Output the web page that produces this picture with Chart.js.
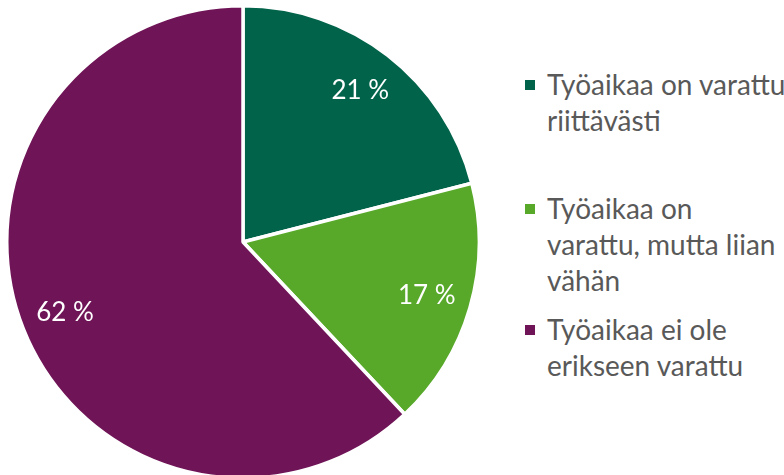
<!DOCTYPE html>
<html>
<head>
<meta charset="utf-8">
<script src="https://cdn.jsdelivr.net/npm/chart.js@4.4.1/dist/chart.umd.min.js"></script>
<style>
  html, body { margin: 0; padding: 0; background: #fff; overflow: hidden; }
  body { width: 784px; height: 475px; position: relative; font-family: Lato, "Open Sans", sans-serif; }
  #pieBox { position: absolute; left: 5px; top: 4px; width: 476px; height: 476px; }
  #legend { position: absolute; left: 0; top: 0; }
  .item { position: absolute; left: 525px; white-space: nowrap; }
  .swatch { position: absolute; left: 0; width: 10px; height: 10px; }
  .txt { position: absolute; left: 22px; color: #595959; font-size: 28px; line-height: 36px; }
</style>
</head>
<body>
<div id="pieBox"><canvas id="pieChart"></canvas></div>
<div id="legend"></div>
<script>
// data
const categories = ['Työaikaa on varattu riittävästi', 'Työaikaa on varattu, mutta liian vähän', 'Työaikaa ei ole erikseen varattu'];
const legendLines = [['Työaikaa on varattu', 'riittävästi'], ['Työaikaa on', 'varattu, mutta liian', 'vähän'], ['Työaikaa ei ole', 'erikseen varattu']];
const shares = [21, 17, 62];
const sliceColors = ['#02634b', '#58a92a', '#6f1456'];

// legend tops (first line) in px
const legendTops = [66, 190, 311];

const legendEl = document.getElementById('legend');
categories.forEach((c, i) => {
    const item = document.createElement('div');
    item.className = 'item';
    item.style.top = legendTops[i] + 'px';
    item.innerHTML = `<div class="swatch" style="top:14px;background:${sliceColors[i]}"></div>` +
        `<div class="txt">${legendLines[i].join('<br>')}</div>`;
    legendEl.appendChild(item);
});

// percent labels inside the slices
const sliceLabels = {
    id: 'sliceLabels',
    afterDatasetsDraw(chart) {
        const c = chart.ctx;
        const meta = chart.getDatasetMeta(0);
        c.save();
        c.fillStyle = '#ffffff';
        c.font = '26px Lato, "Open Sans", sans-serif';
        c.textAlign = 'center';
        c.textBaseline = 'middle';
        meta.data.forEach((arc, i) => {
            const p = arc.getProps(['x', 'y', 'startAngle', 'endAngle', 'outerRadius'], true);
            const mid = (p.startAngle + p.endAngle) / 2;
            const r = p.outerRadius * 0.81;
            c.fillText(shares[i] + ' %', p.x + Math.cos(mid) * r, p.y + Math.sin(mid) * r);
        });
        c.restore();
    }
};

new Chart(document.getElementById('pieChart'), {
    type: 'pie',
    data: {
        labels: categories,
        datasets: [{
            data: shares,
            backgroundColor: sliceColors,
            borderColor: '#ffffff',
            borderWidth: 3.5
        }]
    },
    options: {
        responsive: true,
        maintainAspectRatio: false,
        animation: false,
        layout: { padding: 0 },
        plugins: {
            legend: { display: false },
            tooltip: { enabled: false }
        }
    },
    plugins: [sliceLabels]
});
</script>
</body>
</html>
